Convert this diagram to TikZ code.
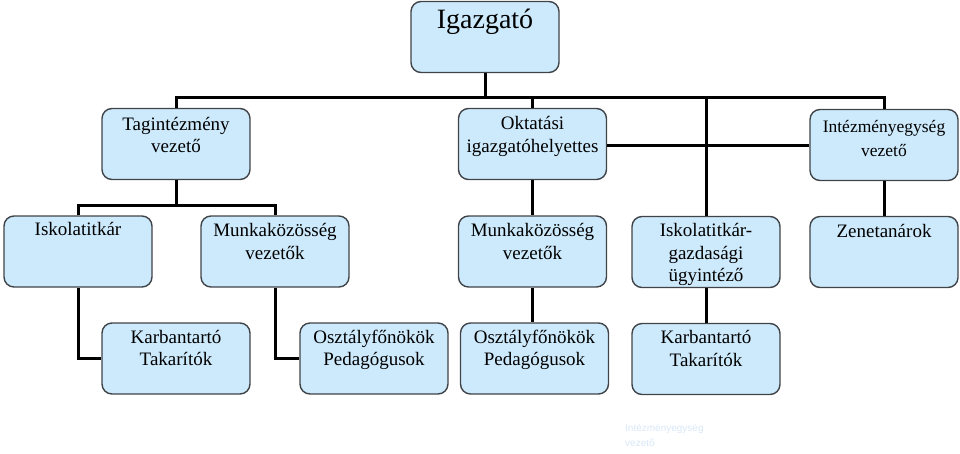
\documentclass[tikz,border=0pt]{standalone}
\usepackage{fontspec}
\setmainfont{Liberation Serif}
\newfontfamily\faintfont{Liberation Sans}
\definecolor{boxfill}{RGB}{205,234,252}
\definecolor{boxborder}{RGB}{64,68,72}
\definecolor{fainttext}{RGB}{216,231,247}
\newcommand{\boxtext}[2][20.5pt]{\begin{minipage}[c][71pt][t]{148pt}\centering\rule{0pt}{#1}#2\end{minipage}}
\begin{document}
\begin{tikzpicture}[x=1pt,y=-1pt,
  orgbox/.style={draw=boxborder, line width=1.4pt, fill=boxfill, rounded corners=10pt,
    minimum width=148pt, minimum height=71pt, inner sep=0pt,
    font=\fontsize{19}{22.5}\selectfont},
  link/.style={line width=3pt, draw=black},
]
\useasboundingbox (0,0) rectangle (960,453);
% boxes
\node[orgbox, font=\fontsize{28}{32}\selectfont] (ig) at (485,37) {\boxtext[26.5pt]{Igazgató}};
\node[orgbox] (tag) at (176,144) {\boxtext[21.5pt]{Tagintézmény\\vezető}};
\node[orgbox] (okt) at (532.5,144) {\boxtext[21pt]{Oktatási\\igazgatóhelyettes}};
\node[orgbox, font=\fontsize{17.5}{23.5}\selectfont] (int) at (884,145) {\boxtext[23pt]{Intézményegység\\vezető}};
\node[orgbox] (isk) at (78,251.5) {\boxtext[19.5pt]{Iskolatitkár}};
\node[orgbox] (mkl) at (275,251.5) {\boxtext{Munkaközösség\\vezetők}};
\node[orgbox] (mkm) at (532.5,251.5) {\boxtext{Munkaközösség\\vezetők}};
\node[orgbox] (igu) at (706,252) {\boxtext[20pt]{Iskolatitkár-\\gazdasági\\ügyintéző}};
\node[orgbox] (zen) at (884,252) {\boxtext{Zenetanárok}};
\node[orgbox] (karl) at (176,358.5) {\boxtext[20pt]{Karbantartó\\Takarítók}};
\node[orgbox] (ofl) at (374,358.5) {\boxtext[20pt]{Osztályfőnökök\\Pedagógusok}};
\node[orgbox] (ofm) at (534.5,358.5) {\boxtext[20pt]{Osztályfőnökök\\Pedagógusok}};
\node[orgbox] (karm) at (706,359) {\boxtext[20pt]{Karbantartó\\Takarítók}};
% faint text
\node[anchor=north west, inner sep=0pt, align=left, text=fainttext,
  font=\faintfont\fontsize{10}{15}\selectfont] (faint) at (625,424) {Intézményegység\\vezető};
% connectors
\coordinate (bus) at (485,97);
\coordinate (bustwo) at (176,205);
\draw[link] (ig.south) -- (bus);
\draw[link] (tag.north) |- (bus) -| (int.north);
\draw[link] (okt.north) -- (okt.north |- bus);
\draw[link] (igu.north) -- (igu.north |- bus);
\draw[link] ([yshift=-1pt]okt.east) -- ([yshift=-1pt]okt.east -| int.west);
\draw[link] (tag.south) -- (bustwo);
\draw[link] (isk.north) |- (bustwo) -| (mkl.north);
\draw[link] (isk.south) |- (karl.west);
\draw[link] (mkl.south) |- (ofl.west);
\draw[link] (okt.south) -- (mkm.north);
\draw[link] (mkm.south) -- (mkm.south |- ofm.north);
\draw[link] (igu.south) -- (karm.north);
\draw[link] (int.south) -- (zen.north);
\end{tikzpicture}
\end{document}
